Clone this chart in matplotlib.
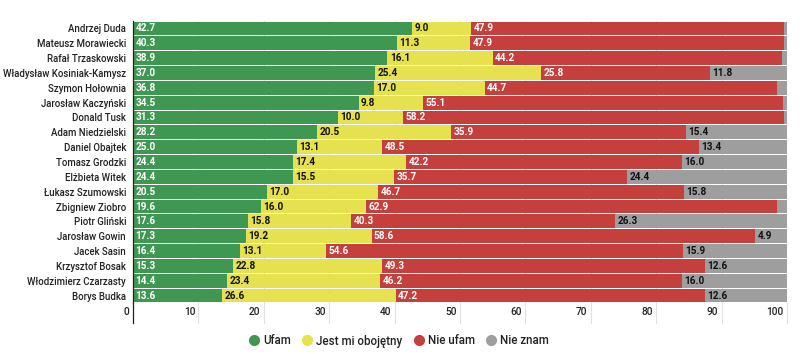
import matplotlib
matplotlib.use("Agg")
import matplotlib.pyplot as plt
from matplotlib.lines import Line2D
import matplotlib.transforms as mtransforms

plt.rcParams["font.family"] = ["Roboto", "DejaVu Sans"]

names = [
  "Andrzej Duda", "Mateusz Morawiecki", "Rafał Trzaskowski",
  "Władysław Kosiniak-Kamysz", "Szymon Hołownia", "Jarosław Kaczyński",
  "Donald Tusk", "Adam Niedzielski", "Daniel Obajtek", "Tomasz Grodzki",
  "Elżbieta Witek", "Łukasz Szumowski", "Zbigniew Ziobro", "Piotr Gliński",
  "Jarosław Gowin", "Jacek Sasin", "Krzysztof Bosak", "Włodzimierz Czarzasty",
  "Borys Budka",
]
ufam      = [42.7, 40.3, 38.9, 37.0, 36.8, 34.5, 31.3, 28.2, 25.0, 24.4, 24.4, 20.5, 19.6, 17.6, 17.3, 16.4, 15.3, 14.4, 13.6]
obojetny  = [9.0, 11.3, 16.1, 25.4, 17.0, 9.8, 10.0, 20.5, 13.1, 17.4, 15.5, 17.0, 16.0, 15.8, 19.2, 13.1, 22.8, 23.4, 26.6]
nie_ufam  = [47.9, 47.9, 44.2, 25.8, 44.7, 55.1, 58.2, 35.9, 48.5, 42.2, 35.7, 46.7, 62.9, 40.3, 58.6, 54.6, 49.3, 46.2, 47.2]
nie_znam  = [0.4, 0.5, 0.8, 11.8, 1.5, 0.6, 0.5, 15.4, 13.4, 16.0, 24.4, 15.8, 1.5, 26.3, 4.9, 15.9, 12.6, 16.0, 12.6]

series = [
  ("Ufam", ufam, "#3f9852", "white"),
  ("Jest mi obojętny", obojetny, "#e6e24f", "#111111"),
  ("Nie ufam", nie_ufam, "#c53f3c", "white"),
  ("Nie znam", nie_znam, "#9e9e9e", "#111111"),
]
xticks = [0, 10, 20, 30, 40, 50, 60, 70, 80, 90, 100]

fig = plt.figure(figsize=(8, 3.54), dpi=100)
ax = fig.add_axes([133/800, 1-303/354, (787-133)/800, (303-21)/354])

ys = list(range(len(names)))
for x in xticks[1:]:
  ax.axvline(x, color="#e2e2e2", lw=0.8, zorder=0)

left = [0.0]*len(names)
for label, vals, col, tcol in series:
  ax.barh(ys, vals, left=left, height=0.93, color=col, zorder=2)
  for i, v in enumerate(vals):
    if v >= 3:
      ax.text(left[i] + 0.35, i, f"{v:.1f}", color=tcol, fontsize=7.2, fontweight="bold",
              va="center", ha="left", zorder=3)
  left = [l + v for l, v in zip(left, vals)]

ax.set_xlim(0, 100)
ax.set_ylim(len(names) - 0.5, -0.5)
ax.set_yticks(ys)
ax.set_yticklabels(names, fontsize=6.9, color="#222222", fontweight="medium")
ax.tick_params(axis="y", length=0, pad=5)
ax.set_xticks([])
for s in ["top", "right", "bottom"]:
  ax.spines[s].set_visible(False)
ax.spines["left"].set_color("#222222")
ax.spines["left"].set_linewidth(0.9)

# tick labels sit left of their gridline, lines run down past the axis
trans = mtransforms.blended_transform_factory(ax.transData, ax.transAxes)
for x in xticks:
  ax.plot([x, x], [0, -0.07], transform=trans, clip_on=False,
          color="#222222" if x == 0 else "#e2e2e2", lw=0.9 if x == 0 else 0.8)
  ax.text(x - 0.5, -0.033, str(x), transform=trans, ha="right", va="center",
          fontsize=7.3, color="#222222", fontweight="medium")

handles = [Line2D([], [], marker="o", ls="", color=c, markersize=7) for _, _, c, _ in series]
fig.legend(handles, [s[0] for s in series], loc="center", bbox_to_anchor=(398/800, 1-341/354),
           ncol=4, frameon=False, handletextpad=0.2, columnspacing=0.8,
           handlelength=1.2, labelcolor="#222222", prop={"weight": "medium", "size": 8.3})

fig.savefig("out.png", dpi=100)
